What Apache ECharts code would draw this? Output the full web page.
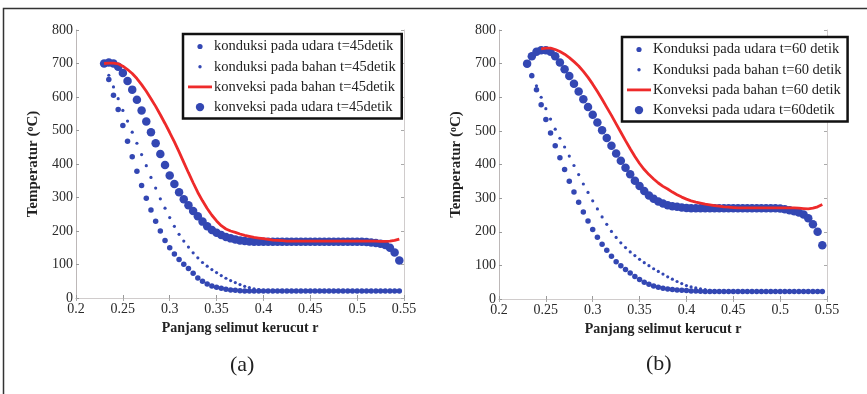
<!DOCTYPE html>
<html>
<head>
<meta charset="utf-8">
<script src="https://cdn.jsdelivr.net/npm/echarts@6/dist/echarts.min.js"></script>
<style>
  html, body { margin: 0; padding: 0; background: #fff; }
  #box { width: 867px; height: 394px; }
</style>
</head>
<body>
<div id="box"></div>
<script>
// r positions shared by every curve
const xs = [0.23,0.235,0.24,0.245,0.25,0.255,0.26,0.265,0.27,0.275,
  0.28,0.285,0.29,0.295,0.3,0.305,0.31,0.315,0.32,0.325,
  0.33,0.335,0.34,0.345,0.35,0.355,0.36,0.365,0.37,0.375,
  0.38,0.385,0.39,0.395,0.4,0.405,0.41,0.415,0.42,0.425,
  0.43,0.435,0.44,0.445,0.45,0.455,0.46,0.465,0.47,0.475,
  0.48,0.485,0.49,0.495,0.5,0.505,0.51,0.515,0.52,0.525,
  0.53,0.535,0.54,0.545];

// (a) t = 45 detik
const kondUdara45 = [700,652,605,563,515,468,422,378,336,298,
  263,229,200,172,150,131,115,101,88,74,
  60,50,42,36,32,29,26,24,23,22,
  21,21,21,21,21,21,21,21,21,21,
  21,21,21,21,21,21,21,21,21,21,
  21,21,21,21,21,21,21,21,21,21,
  21,21,21,21];
const kondBahan45 = [700,665,630,595,560,528,495,462,428,395,
  360,328,296,268,240,214,190,170,152,135,
  120,106,95,85,76,67,59,52,46,40,
  35,31,27,25,23,22,21,21,21,21,
  21,21,21,21,21,21,21,21,21,21,
  21,21,21,21,21,21,21,21,21,21,
  21,21,21,21];
const konvBahan45 = [700,701,701,699,692,682,670,655,637,617,
  595,572,547,521,494,466,436,405,374,344,
  315,290,267,247,230,216,206,200,196,191,
  187,184,181,179,177,175,173,172,171,170,
  170,170,170,170,170,170,170,170,170,170,
  170,170,170,170,170,170,170,170,170,169,
  169,170,172,176];
const konvUdara45 = [700,703,700,690,672,648,622,592,560,527,
  495,462,430,397,366,340,316,295,277,260,
  244,228,214,203,195,188,182,178,175,172,
  170,169,168,168,168,168,168,168,168,168,
  168,168,168,168,168,168,168,168,168,168,
  168,168,168,168,168,168,167,166,164,162,
  158,150,136,112];

// (b) t = 60 detik
const kondUdara60 = [700,664,622,578,534,494,456,420,385,350,
  318,288,259,232,207,184,163,145,127,111,
  99,88,77,67,58,50,44,39,35,32,
  30,28,27,26,25,24,24,23,22,22,
  22,22,22,22,22,22,22,22,22,22,
  22,22,22,22,22,22,22,22,22,22,
  22,22,22,22];
const kondBahan60 = [700,668,634,600,566,535,505,478,452,425,
  397,370,342,317,292,268,244,222,201,183,
  167,153,140,129,118,108,99,90,82,74,
  66,59,52,46,40,36,33,30,28,26,
  25,24,23,22,22,22,22,22,22,22,
  22,22,22,22,22,22,22,22,22,22,
  22,22,22,22];
const konvBahan60 = [null,null,null,744,746,746,742,736,728,718,
  706,693,677,659,639,617,594,570,546,521,
  496,471,447,424,403,385,370,357,345,335,
  327,318,310,303,297,292,288,285,282,280,
  278,276,274,273,272,271,271,271,271,271,
  271,271,271,271,271,271,271,271,270,269,
  268,270,274,281];
const konvUdara60 = [700,722,735,740,740,735,722,703,683,663,
  640,617,594,571,548,525,502,479,456,433,
  411,390,371,352,336,321,308,298,290,284,
  279,276,274,272,271,270,270,270,270,270,
  270,270,270,270,270,270,270,270,270,270,
  270,270,270,270,269,267,264,261,257,251,
  240,222,200,160];

const names45 = ["konduksi pada udara t=45detik", "konduksi pada bahan t=45detik",
  "konveksi pada bahan t=45detik", "konveksi pada udara t=45detik"];
const names60 = ["Konduksi pada udara t=60 detik", "Konduksi pada bahan t=60 detik",
  "Konveksi pada bahan t=60 detik", "Konveksi pada udara t=60detik"];
const xTicks = { min: 0.2, max: 0.55, interval: 0.05 };
const yTicks = { min: 0, max: 800, interval: 100 };
const panelLabels = ["(a)", "(b)"];

const serif = "Liberation Serif";
const blue = "#3347b3";
const red = "#ee2a2a";

// icons drawn in a fixed 24x14 box so they keep their relative size
function dotIcon(r) {
  return "path://M0,0M24,14M12," + (7 - r) + "A" + r + "," + r + ",0,1,1,12," + (7 + r) +
    "A" + r + "," + r + ",0,1,1,12," + (7 - r) + "Z";
}
const barIcon = "path://M0,0M24,14M0,5.6L24,5.6L24,8.4L0,8.4Z";
const pairs = ys => xs.map((x, i) => [x, ys[i]]);

function axesFor(g) {
  const xa = [
    Object.assign({
      type: "value", gridIndex: g, position: "bottom",
      name: "Panjang selimut kerucut r", nameLocation: "middle", nameGap: 22,
      nameTextStyle: { fontFamily: serif, fontWeight: "bold", fontSize: 14, color: "#222" },
      axisLine: { lineStyle: { color: "#bdb8b8", width: 1 } },
      axisTick: { inside: true, length: 3, lineStyle: { color: "#999" } },
      axisLabel: { fontFamily: serif, fontSize: 14, color: "#2a2a2a", margin: 4 },
      splitLine: { show: false }
    }, xTicks),
    Object.assign({
      type: "value", gridIndex: g, position: "top",
      axisLine: { lineStyle: { color: "#d0cccc", width: 1 } },
      axisTick: { inside: true, length: 3, lineStyle: { color: "#aaa" } },
      axisLabel: { show: false }, splitLine: { show: false }
    }, xTicks)
  ];
  const ya = [
    Object.assign({
      type: "value", gridIndex: g, position: "left",
      name: "Temperatur ({sup|o}C)", nameLocation: "middle", nameGap: 34, nameRotate: 90,
      nameTextStyle: {
        fontFamily: serif, fontWeight: "bold", fontSize: 15, color: "#222",
        rich: { sup: { fontFamily: serif, fontWeight: "bold", fontSize: 10, color: "#222",
          verticalAlign: "top", lineHeight: 17 } }
      },
      axisLine: { show: true, lineStyle: { color: "#bdb8b8", width: 1 } },
      axisTick: { show: true, inside: true, length: 3, lineStyle: { color: "#999" } },
      axisLabel: { fontFamily: serif, fontSize: 14, color: "#2a2a2a", margin: 3 },
      splitLine: { show: false }
    }, yTicks),
    Object.assign({
      type: "value", gridIndex: g, position: "right",
      axisLine: { show: true, lineStyle: { color: "#d0cccc", width: 1 } },
      axisTick: { show: true, inside: true, length: 3, lineStyle: { color: "#aaa" } },
      axisLabel: { show: false }, splitLine: { show: false }
    }, yTicks)
  ];
  return { xa, ya };
}

function seriesFor(names, vals, axisIdx) {
  const sizes = [5.5, 3.2, 0, 8.5];
  return names.map((name, k) => {
    if (k === 2) {
      return {
        type: "line", name, xAxisIndex: axisIdx, yAxisIndex: axisIdx,
        data: pairs(vals[k]), symbol: "none", silent: true,
        lineStyle: { color: red, width: 2.8 }, itemStyle: { color: red }
      };
    }
    return {
      type: "scatter", name, xAxisIndex: axisIdx, yAxisIndex: axisIdx,
      data: pairs(vals[k]), symbol: "circle", symbolSize: sizes[k], silent: true,
      itemStyle: { color: blue, opacity: 1 }
    };
  });
}

function legendFor(names, left, top) {
  const icons = [dotIcon(2.6), dotIcon(1.7), barIcon, dotIcon(4.2)];
  return {
    orient: "vertical", left, top,
    data: names.map((n, k) => ({ name: n, icon: icons[k], itemStyle: { color: k === 2 ? red : blue } })),
    itemWidth: 24, itemHeight: 14, itemGap: 5.2,
    padding: [5, 6, 4, 5],
    borderColor: "#111", borderWidth: 2.5, borderRadius: 0,
    backgroundColor: "#fff",
    selectedMode: false,
    textStyle: { fontFamily: serif, fontSize: 14.5, color: "#222", padding: [0, 0, 0, -3] }
  };
}

const a = axesFor(0), b = axesFor(1);
const chart = echarts.init(document.getElementById("box"), null, { renderer: "canvas" });
chart.setOption({
  animation: false,
  backgroundColor: "#fff",
  grid: [
    { left: 76, top: 30, width: 328, height: 268 },
    { left: 499, top: 30, width: 328, height: 269 }
  ],
  xAxis: [a.xa[0], a.xa[1], b.xa[0], b.xa[1]],
  yAxis: [a.ya[0], a.ya[1], b.ya[0], b.ya[1]],
  legend: [legendFor(names45, 183, 34), legendFor(names60, 622, 37)],
  series: seriesFor(names45, [kondUdara45, kondBahan45, konvBahan45, konvUdara45], 0)
    .concat(seriesFor(names60, [kondUdara60, kondBahan60, konvBahan60, konvUdara60], 2)),
  graphic: [
    { type: "polyline", silent: true,
      shape: { points: [[3.5, 394], [3.5, 8.5], [867, 8.5]] },
      style: { stroke: "#333", lineWidth: 1.5, fill: null } },
    { type: "text", left: 230, top: 354, silent: true,
      style: { text: panelLabels[0], font: "22px 'Liberation Serif'", fill: "#222" } },
    { type: "text", left: 646, top: 353, silent: true,
      style: { text: panelLabels[1], font: "22px 'Liberation Serif'", fill: "#222" } }
  ]
});
</script>
</body>
</html>
